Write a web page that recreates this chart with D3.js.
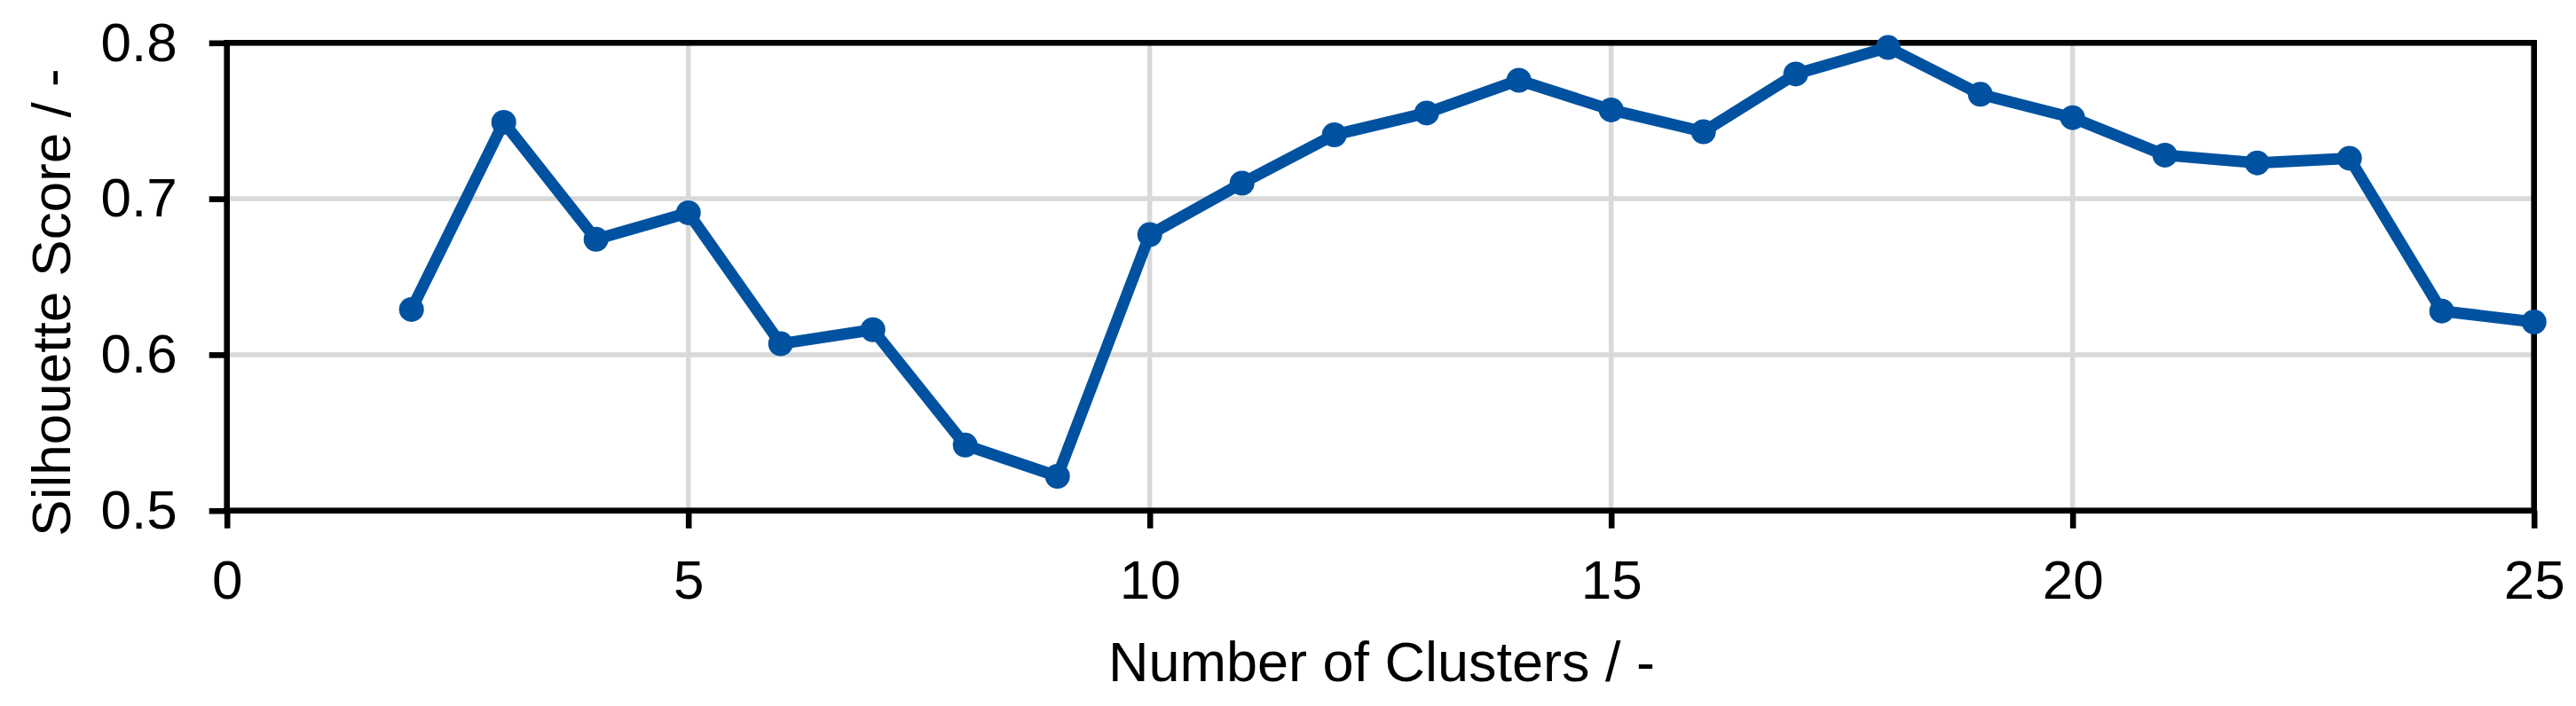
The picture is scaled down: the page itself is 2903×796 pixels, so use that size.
<!DOCTYPE html>
<html>
<head>
<meta charset="utf-8">
<script src="https://cdn.jsdelivr.net/npm/d3@7"></script>
<style>
  html, body { margin: 0; padding: 0; background: #fff; }
  svg { display: block; }
  text { font-family: "Liberation Sans", Arial, sans-serif; fill: #000; }
</style>
</head>
<body>
<svg id="chart" width="2903" height="796"></svg>
<script>
const clusters = [2, 3, 4, 5, 6, 7, 8, 9, 10, 11, 12, 13, 14, 15, 16, 17, 18, 19, 20, 21, 22, 23, 24, 25];
const scores = [0.629, 0.749, 0.674, 0.691, 0.607, 0.616, 0.542, 0.522, 0.677, 0.710, 0.741, 0.755, 0.776, 0.757, 0.743, 0.780, 0.797, 0.767, 0.752, 0.728, 0.723, 0.726, 0.628, 0.621];
const xTicks = [0, 5, 10, 15, 20, 25];
const yTicks = [0.5, 0.6, 0.7, 0.8];
const xTitle = "Number of Clusters / -";
const yTitle = "Silhouette Score / -";

const svg = d3.select("#chart");
const L = 255.7, R = 2855.7, T = 48.3, B = 575.7;
const x = d3.scaleLinear().domain([0, 25]).range([L, R]);
const y = d3.scaleLinear().domain([0.5, 0.8]).range([B, T]);

const gridColor = "#d9d9d9";
// gridlines
svg.append("g").selectAll("line.gx").data(xTicks.filter(d => d > 0 && d < 25)).join("line")
  .attr("x1", d => x(d)).attr("x2", d => x(d)).attr("y1", T).attr("y2", B)
  .attr("stroke", gridColor).attr("stroke-width", 5.5);
svg.append("g").selectAll("line.gy").data(yTicks.filter(d => d > 0.5 && d < 0.8)).join("line")
  .attr("x1", L).attr("x2", R).attr("y1", d => y(d)).attr("y2", d => y(d))
  .attr("stroke", gridColor).attr("stroke-width", 5.5);

// frame
const axW = 6.6;
svg.append("rect").attr("x", L).attr("y", T).attr("width", R - L).attr("height", B - T)
  .attr("fill", "none").attr("stroke", "#000").attr("stroke-width", axW);

// axes using d3 axis
const xAxis = d3.axisBottom(x).tickValues(xTicks).tickSize(20).tickPadding(35).tickFormat(d3.format("d"));
const gx = svg.append("g").attr("transform", `translate(0,${B})`).call(xAxis);
gx.select(".domain").remove();
gx.selectAll(".tick line").attr("stroke", "#000").attr("stroke-width", axW);
gx.selectAll(".tick text").attr("font-size", 62).attr("font-family", "Liberation Sans, Arial, sans-serif").attr("fill", "#000");

const yAxis = d3.axisLeft(y).tickValues(yTicks).tickSize(20).tickPadding(36).tickFormat(d3.format(".1f"));
const gy = svg.append("g").attr("transform", `translate(${L},0)`).call(yAxis);
gy.select(".domain").remove();
gy.selectAll(".tick line").attr("stroke", "#000").attr("stroke-width", axW);
gy.selectAll(".tick text").attr("font-size", 62).attr("font-family", "Liberation Sans, Arial, sans-serif").attr("fill", "#000");

// titles
svg.append("text").attr("x", 1557).attr("y", 768).attr("text-anchor", "middle")
  .attr("font-size", 63).text(xTitle);
svg.append("text").attr("transform", "translate(79,341) rotate(-90)").attr("text-anchor", "middle")
  .attr("font-size", 62).text(yTitle);

// series
const data = clusters.map((c, i) => ({ c, v: scores[i] }));
const color = "#0052A0";
svg.append("path").datum(data)
  .attr("d", d3.line().x(d => x(d.c)).y(d => y(d.v)))
  .attr("fill", "none").attr("stroke", color).attr("stroke-width", 13).attr("stroke-linejoin", "round");
svg.append("g").selectAll("circle").data(data).join("circle")
  .attr("cx", d => x(d.c)).attr("cy", d => y(d.v)).attr("r", 14).attr("fill", color);
</script>
</body>
</html>
